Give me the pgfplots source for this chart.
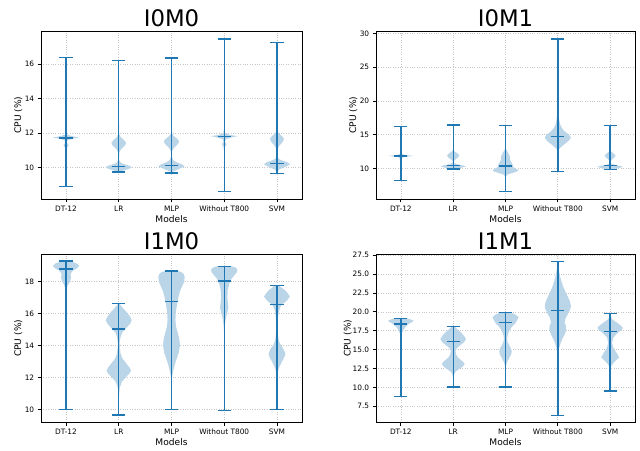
\documentclass[border=0pt]{standalone}
\usepackage{fontspec}
\setmainfont{DejaVu Sans}
\usepackage{pgfplots}
\usepackage{pgfplotstable}
\pgfplotsset{compat=1.18}
\definecolor{cz}{HTML}{1F77B4}
\definecolor{vf}{RGB}{187,213,232}

% ---------- I0M0 ----------
\pgfplotstableread{
y w
8.93 0
10.8 0.002
11.15 0.015
11.3 0.05
11.45 0.015
11.6 0.03
11.68 0.12
11.75 0.25
11.82 0.13
11.92 0.02
12.2 0.002
16.36 0
}\aA
\pgfplotstableread{
y w
9.77 0
9.77 0.03
9.85 0.1
9.95 0.2
10.04 0.25
10.12 0.2
10.2 0.12
10.29 0.04
10.45 0.008
10.9 0.01
11.1 0.05
11.3 0.12
11.45 0.14
11.6 0.1
11.8 0.03
12.0 0.005
16.21 0
}\aB
\pgfplotstableread{
y w
9.71 0
9.71 0.01
9.8 0.04
9.95 0.15
10.08 0.25
10.2 0.2
10.32 0.1
10.45 0.03
10.7 0.005
11.0 0.015
11.2 0.06
11.4 0.13
11.55 0.145
11.7 0.1
11.85 0.04
12.0 0.01
12.4 0.001
16.34 0
}\aC
\pgfplotstableread{
y w
8.64 0
10.9 0.002
11.22 0.015
11.36 0.045
11.5 0.015
11.65 0.03
11.74 0.12
11.83 0.25
11.9 0.12
12.0 0.02
12.3 0.002
17.45 0
}\aD
\pgfplotstableread{
y w
9.67 0
9.75 0.005
9.9 0.04
10.05 0.15
10.2 0.25
10.32 0.2
10.42 0.1
10.52 0.03
10.8 0.005
11.1 0.01
11.3 0.05
11.5 0.11
11.68 0.133
11.85 0.09
12.0 0.03
12.2 0.005
17.25 0
}\aE

% ---------- I0M1 ----------
\pgfplotstableread{
y w
8.24 0
10.8 0.002
11.3 0.015
11.5 0.03
11.6 0.02
11.72 0.08
11.86 0.245
12.0 0.08
12.15 0.015
12.6 0.002
16.18 0
}\bA
\pgfplotstableread{
y w
9.9 0
9.9 0.05
10.1 0.15
10.3 0.245
10.45 0.18
10.6 0.08
10.8 0.02
11.0 0.01
11.25 0.03
11.6 0.09
11.95 0.118
12.25 0.08
12.55 0.02
12.9 0.003
16.42 0
}\bB
\pgfplotstableread{
y w
6.6 0
8.8 0.005
9.1 0.04
9.35 0.14
9.55 0.22
9.72 0.25
9.95 0.2
10.2 0.15
10.5 0.14
10.8 0.12
11.1 0.1
11.4 0.08
11.7 0.09
12.0 0.07
12.3 0.05
12.6 0.03
12.9 0.01
13.5 0.002
16.4 0
}\bC
\pgfplotstableread{
y w
9.56 0
12.5 0.005
12.9 0.025
13.3 0.08
13.8 0.16
14.2 0.22
14.6 0.25
15.1 0.2
15.5 0.13
16.0 0.077
16.5 0.045
17.0 0.03
18.0 0.013
19.0 0.006
20.5 0.002
29.2 0
}\bD
\pgfplotstableread{
y w
9.8 0
9.8 0.03
9.95 0.1
10.12 0.2
10.25 0.245
10.4 0.17
10.55 0.07
10.75 0.015
11.0 0.01
11.3 0.03
11.6 0.08
11.92 0.105
12.2 0.07
12.5 0.02
12.8 0.003
16.4 0
}\bE

% ---------- I1M0 ----------
\pgfplotstableread{
y w
10.0 0
17.0 0.001
17.3 0.004
17.6 0.015
17.8 0.035
18.0 0.07
18.25 0.095
18.5 0.085
18.7 0.13
18.85 0.21
19.0 0.25
19.15 0.2
19.25 0.12
19.29 0.06
19.29 0
}\cA
\pgfplotstableread{
y w
9.67 0
10.5 0.003
11.0 0.008
11.4 0.02
11.75 0.06
12.05 0.14
12.3 0.21
12.45 0.23
12.65 0.2
12.9 0.14
13.2 0.07
13.5 0.035
13.9 0.02
14.2 0.018
14.5 0.03
14.8 0.06
15.1 0.14
15.4 0.22
15.6 0.245
15.85 0.21
16.1 0.15
16.35 0.08
16.55 0.03
16.63 0.015
16.63 0
}\cB
\pgfplotstableread{
y w
10.0 0
11.5 0.003
12.0 0.01
12.4 0.03
12.8 0.06
13.2 0.1
13.6 0.14
14.0 0.16
14.4 0.15
14.8 0.12
15.2 0.085
15.6 0.075
16.0 0.08
16.5 0.1
17.0 0.13
17.4 0.16
17.7 0.2
18.0 0.24
18.3 0.25
18.5 0.23
18.62 0.18
18.68 0.1
18.68 0
}\cC
\pgfplotstableread{
y w
9.96 0
14.8 0.003
15.2 0.01
15.5 0.02
15.8 0.035
16.1 0.06
16.4 0.08
16.65 0.07
17.0 0.06
17.45 0.065
17.88 0.095
18.2 0.14
18.4 0.19
18.6 0.24
18.75 0.25
18.88 0.22
18.96 0.15
18.96 0
}\cD
\pgfplotstableread{
y w
10.0 0
11.8 0.002
12.25 0.008
12.6 0.035
12.98 0.09
13.29 0.14
13.5 0.16
13.75 0.13
14.02 0.076
14.3 0.035
14.54 0.025
15.17 0.013
15.8 0.02
16.2 0.04
16.52 0.08
16.83 0.19
17.08 0.245
17.3 0.2
17.46 0.16
17.65 0.08
17.77 0.04
17.77 0
}\cE

% ---------- I1M1 ----------
\pgfplotstableread{
y w
8.82 0
16.6 0.002
17.04 0.012
17.48 0.04
17.9 0.077
18.2 0.12
18.4 0.15
18.6 0.2
18.8 0.25
19.0 0.19
19.16 0.1
19.16 0
}\dA
\pgfplotstableread{
y w
10.06 0
11.2 0.003
11.7 0.015
12.1 0.05
12.4 0.11
12.8 0.19
13.15 0.22
13.5 0.17
13.9 0.1
14.3 0.06
14.8 0.045
15.2 0.07
15.6 0.14
16.0 0.21
16.4 0.245
16.8 0.21
17.2 0.16
17.5 0.11
17.8 0.06
18.1 0.03
18.1 0
}\dB
\pgfplotstableread{
y w
10.06 0
12.5 0.005
13.0 0.015
13.4 0.035
13.9 0.07
14.4 0.11
14.8 0.12
15.2 0.1
15.6 0.07
16.0 0.04
16.5 0.03
17.0 0.045
17.5 0.07
18.0 0.12
18.5 0.19
19.0 0.23
19.3 0.25
19.6 0.2
19.8 0.14
19.9 0.08
19.9 0
}\dC
\pgfplotstableread{
y w
6.31 0
13.5 0.002
14.5 0.01
15.2 0.025
15.8 0.05
16.4 0.085
17.0 0.13
17.6 0.16
18.0 0.16
18.6 0.13
19.2 0.15
19.8 0.2
20.4 0.24
20.8 0.25
21.4 0.23
22.0 0.19
22.6 0.15
23.2 0.11
23.8 0.08
24.5 0.05
25.2 0.03
25.9 0.012
26.66 0.003
26.66 0
}\dD
\pgfplotstableread{
y w
9.53 0
12.0 0.002
12.6 0.01
13.06 0.04
13.5 0.1
13.95 0.17
14.5 0.13
15.2 0.064
15.9 0.035
16.6 0.06
17.26 0.15
17.6 0.22
17.9 0.245
18.2 0.2
18.58 0.13
19.0 0.04
19.4 0.01
19.77 0.002
19.77 0
}\dE

\newcommand{\violin}[2]{%
  \addplot[draw=none, fill=vf] table[x expr={#1+\thisrow{w}}, y=y] {#2} -- cycle;
  \addplot[draw=none, fill=vf] table[x expr={#1-\thisrow{w}}, y=y] {#2} -- cycle;
}
% pos, left, right, min, median, max
\newcommand{\vlines}[6]{%
  \addplot[vl] coordinates {(#1,#4) (#1,#6)};
  \addplot[vl] coordinates {(#2,#4) (#3,#4)};
  \addplot[vl] coordinates {(#2,#5) (#3,#5)};
  \addplot[vl] coordinates {(#2,#6) (#3,#6)};
}

\pgfplotsset{
  vl/.style={color=cz, line width=1.35pt, mark=none},
  vax/.style={
    scale only axis, anchor=south west,
    xmin=0.525, xmax=5.475,
    xtick={1,2,3,4,5},
    xticklabels={DT-12,LR,MLP,Without T800,SVM},
    grid=major,
    grid style={gray!45, line width=0.7pt, dash pattern=on 0.8pt off 1.6pt},
    axis line style={line width=0.75pt},
    tick align=outside, tick pos=left,
    major tick length=3.3pt,
    tick style={line width=0.75pt, black},
    ticklabel style={font=\fontsize{7.4}{8}\selectfont},
    /pgf/number format/assume math mode=true,
    xlabel=Models, ylabel={CPU (\%)},
    every axis title/.style={at={(axis description cs:0.5,1)}, anchor=base, yshift=4.6pt,
      font=\fontsize{22.8}{24}\selectfont},
    every axis x label/.style={at={(axis description cs:0.5,0)}, yshift=-20pt, anchor=center,
      font=\fontsize{9.1}{10}\selectfont},
    every axis y label/.style={at={(axis description cs:0,0.5)}, xshift=-22.7pt, rotate=90, anchor=center,
      font=\fontsize{9.1}{10}\selectfont},
  }
}

\begin{document}
\begin{tikzpicture}
\useasboundingbox (0,0) rectangle (640pt,450pt);

% I0M0
\begin{axis}[vax, at={(41pt,251pt)}, width=261pt, height=167.7pt,
  ymin=8.2, ymax=17.89, ytick={10,12,14,16}, title={I0M0}]
\violin{1}{\aA}\violin{2}{\aB}\violin{3}{\aC}\violin{4}{\aD}\violin{5}{\aE}
\vlines{1}{0.875}{1.125}{8.93}{11.73}{16.36}
\vlines{2}{1.875}{2.125}{9.77}{10.06}{16.21}
\vlines{3}{2.875}{3.125}{9.71}{10.15}{16.34}
\vlines{4}{3.875}{4.125}{8.64}{11.8}{17.45}
\vlines{5}{4.875}{5.125}{9.67}{10.25}{17.25}
\end{axis}

% I0M1
\begin{axis}[vax, at={(376pt,251pt)}, width=259pt, height=167.7pt,
  ymin=5.47, ymax=30.33, ytick={10,15,20,25,30}, title={I0M1}]
\violin{1}{\bA}\violin{2}{\bB}\violin{3}{\bC}\violin{4}{\bD}\violin{5}{\bE}
\vlines{1}{0.875}{1.125}{8.24}{11.86}{16.18}
\vlines{2}{1.875}{2.125}{9.9}{10.44}{16.42}
\vlines{3}{2.875}{3.125}{6.6}{10.34}{16.4}
\vlines{4}{3.875}{4.125}{9.56}{14.77}{29.2}
\vlines{5}{4.875}{5.125}{9.8}{10.44}{16.4}
\end{axis}

% I1M0
\begin{axis}[vax, at={(41pt,27.7pt)}, width=261pt, height=168pt,
  ymin=9.21, ymax=19.72, ytick={10,12,14,16,18}, title={I1M0}]
\violin{1}{\cA}\violin{2}{\cB}\violin{3}{\cC}\violin{4}{\cD}\violin{5}{\cE}
\vlines{1}{0.875}{1.125}{10.0}{18.79}{19.29}
\vlines{2}{1.875}{2.125}{9.67}{15.04}{16.63}
\vlines{3}{2.875}{3.125}{10.0}{16.78}{18.68}
\vlines{4}{3.875}{4.125}{9.96}{18.04}{18.96}
\vlines{5}{4.875}{5.125}{10.0}{16.56}{17.77}
\end{axis}

% I1M1
\begin{axis}[vax, at={(376pt,27.7pt)}, width=259pt, height=168pt,
  ymin=5.38, ymax=27.62, ytick={7.5,10,12.5,15,17.5,20,22.5,25,27.5},
  yticklabel style={/pgf/number format/.cd, fixed, fixed zerofill, precision=1},
  every axis y label/.style={at={(axis description cs:0,0.5)}, xshift=-28.3pt, rotate=90, anchor=center,
      font=\fontsize{9.1}{10}\selectfont},
  title={I1M1}]
\violin{1}{\dA}\violin{2}{\dB}\violin{3}{\dC}\violin{4}{\dD}\violin{5}{\dE}
\vlines{1}{0.875}{1.125}{8.82}{18.4}{19.16}
\vlines{2}{1.875}{2.125}{10.06}{16.06}{18.1}
\vlines{3}{2.875}{3.125}{10.06}{18.58}{19.9}
\vlines{4}{3.875}{4.125}{6.31}{20.2}{26.66}
\vlines{5}{4.875}{5.125}{9.53}{17.43}{19.77}
\end{axis}
\end{tikzpicture}
\end{document}
